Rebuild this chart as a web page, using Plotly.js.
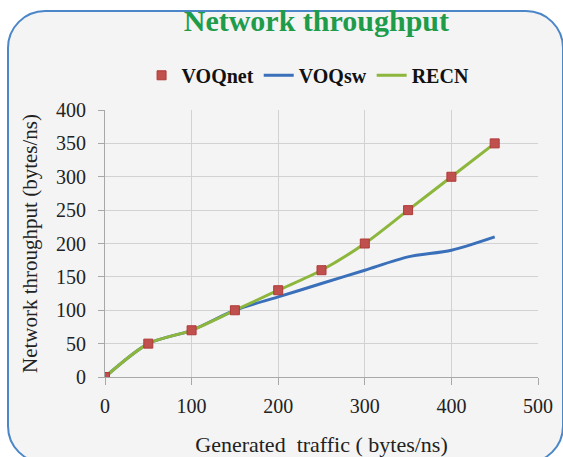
<!DOCTYPE html>
<html><head><meta charset="utf-8">
<script src="https://cdn.plot.ly/plotly-3.0.1.min.js"></script>
<style>
html,body{margin:0;padding:0;width:563px;height:457px;overflow:hidden;background:#fff;}
#card{position:absolute;left:7px;top:10px;width:553px;height:450px;border:2px solid #4a86c8;border-radius:38px;background:#f4f4f4;}
#chart{position:absolute;left:0;top:0;width:563px;height:457px;}
</style></head>
<body>
<div id="card"></div>
<div id="chart"></div>
<script>
const traffic = [0, 50, 100, 150, 200, 250, 300, 350, 400, 450];
const voqnet = [0, 50, 70, 100, 130, 160, 200, 250, 300, 350];
const voqsw  = [0, 50, 70, 100, 120, 140, 160, 180, 190, 210];
const recn   = [0, 50, 70, 100, 130, 160, 200, 250, 300, 350];
const xTicks = [0, 100, 200, 300, 400, 500];
const yTicks = [0, 50, 100, 150, 200, 250, 300, 350, 400];

const font = 'Liberation Serif, Times New Roman, serif';
const traces = [
  {x: traffic, y: voqsw, name: 'VOQsw', mode: 'lines', legendrank: 2,
   line: {color: '#3a6fba', width: 3, shape: 'spline', smoothing: 0.8}},
  {x: traffic, y: recn, name: 'RECN', mode: 'lines', legendrank: 3,
   line: {color: '#8cb63c', width: 3, shape: 'spline', smoothing: 0.8}},
  {x: traffic, y: voqnet, name: 'VOQnet', mode: 'markers', legendrank: 1,
   marker: {symbol: 'square', size: 9, color: '#c0504d', line: {color: '#b03a38', width: 1}}}
];
const layout = {
  width: 563, height: 457,
  paper_bgcolor: 'rgba(0,0,0,0)', plot_bgcolor: 'rgba(0,0,0,0)',
  margin: {l: 105, r: 25, t: 110, b: 80},
  font: {family: font, color: '#222', size: 20},
  title: {text: '<b>Network throughput</b>', x: 0.562, xanchor: 'center', y: 0.955, yanchor: 'middle',
          font: {family: font, size: 30, color: '#1e9c4a'}},
  showlegend: true,
  legend: {orientation: 'h', x: 0.469, xanchor: 'center', y: 1.13, yanchor: 'middle',
           font: {family: font, size: 20, color: '#111', weight: 'bold'}, bgcolor: 'rgba(0,0,0,0)',
           itemwidth: 30, tracegroupgap: 0},
  xaxis: {range: [0, 500], tickvals: xTicks, ticktext: xTicks.map(String),
          showgrid: true, gridcolor: '#d2d2d2', gridwidth: 1, automargin: false,
          showline: true, linecolor: '#a8a8a8', ticks: 'outside', ticklen: 7, tickcolor: '#a8a8a8',
          zeroline: false, tickfont: {family: font, size: 20, color: '#222'}, ticklabelstandoff: 4,
          title: {text: 'Generated  traffic ( bytes/ns)', font: {family: font, size: 22, color: '#222'}, standoff: 20}},
  yaxis: {range: [0, 400], tickvals: yTicks, ticktext: yTicks.map(String),
          showgrid: true, gridcolor: '#d2d2d2', gridwidth: 1, automargin: false,
          showline: true, linecolor: '#a8a8a8', ticks: 'outside', ticklen: 6, tickcolor: '#a8a8a8',
          zeroline: false, tickfont: {family: font, size: 20, color: '#222'}, ticklabelstandoff: 8,
          title: {text: 'Network throughput (bytes/ns)', font: {family: font, size: 21, color: '#222'}, standoff: 12}}
};
Plotly.newPlot('chart', traces, layout, {displayModeBar: false, staticPlot: true});
</script>
</body></html>
